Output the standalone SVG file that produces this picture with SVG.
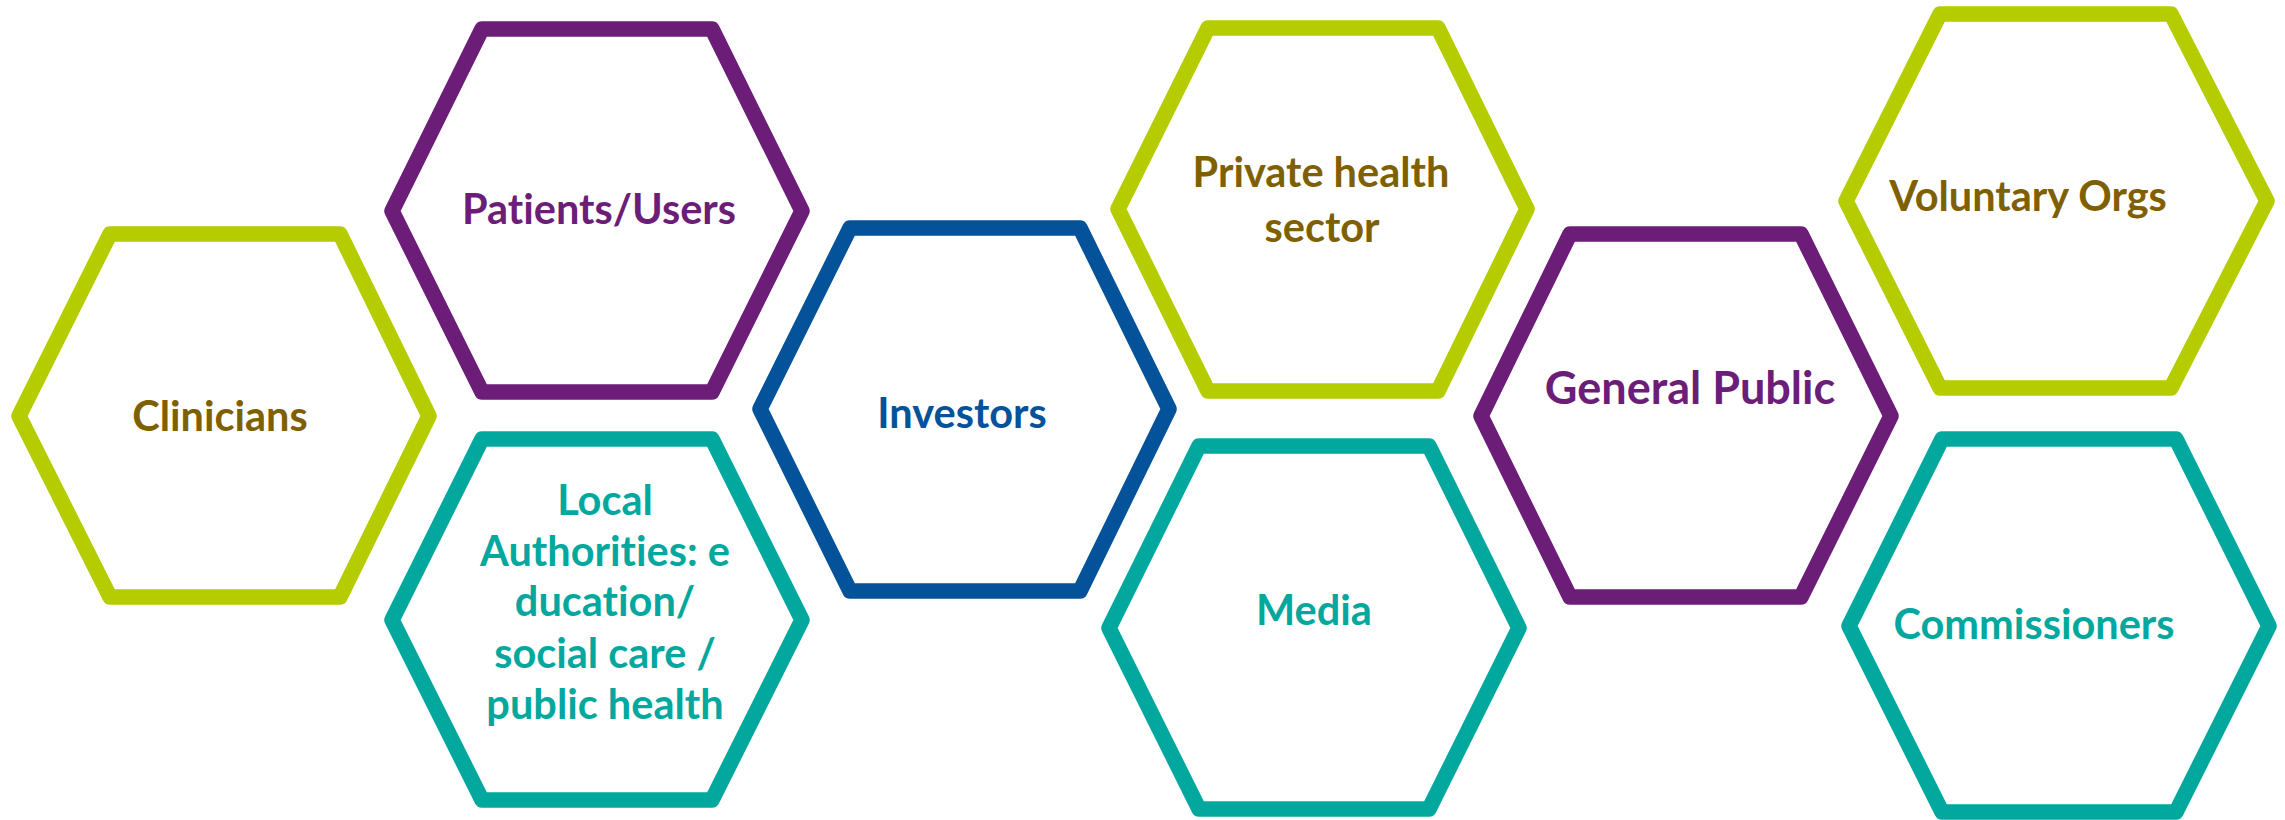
<svg xmlns="http://www.w3.org/2000/svg" width="2285" height="820" viewBox="0 0 2285 820">
  <style>
    .hex { fill: #ffffff; stroke-width: 15.5; stroke-linejoin: round; }
    .lime { stroke: #b5cc00; }
    .purple { stroke: #6c1d78; }
    .teal { stroke: #02a89e; }
    .blue { stroke: #04529a; }
    .label { font-family: Lato, "Liberation Sans", sans-serif; font-weight: bold; font-size: 41.5px; text-anchor: middle; font-variant-ligatures: none; font-feature-settings: "liga" 0, "dlig" 0; }
    .big { font-size: 45px; }
    .t-brown { fill: #7f6000; }
    .t-purple { fill: #6c1d78; }
    .t-teal { fill: #02a89e; }
    .t-blue { fill: #04529a; }
  </style>
  <rect width="2285" height="820" fill="#ffffff"/>

  <g id="connectors"/>

  <g id="clinicians">
    <polygon class="hex lime" points="19,416 110,234 340,234 429,416 340,597 110,597"/>
    <text class="label t-brown" x="220" y="431">Clinicians</text>
  </g>

  <g id="patients-users">
    <polygon class="hex purple" points="392,211 482,29 712,29 802,211 712,392 482,392"/>
    <text class="label t-purple" x="599" y="224">Patients/Users</text>
  </g>

  <g id="local-authorities">
    <polygon class="hex teal" points="392,620 482,439 712,439 802,620 712,800 482,800"/>
    <text class="label t-teal" x="605" y="515">Local</text>
    <text class="label t-teal" x="605" y="566">Authorities: e</text>
    <text class="label t-teal" x="605" y="616">ducation/</text>
    <text class="label t-teal" x="605" y="668">social care /</text>
    <text class="label t-teal" x="605" y="719">public health</text>
  </g>

  <g id="investors">
    <polygon class="hex blue" points="760,409 850,228 1080,228 1169,409 1080,591 850,591"/>
    <text class="label t-blue" x="962" y="428">Investors</text>
  </g>

  <g id="private-health-sector">
    <polygon class="hex lime" points="1118,209 1208,28 1438,28 1527,209 1438,391 1208,391"/>
    <text class="label t-brown" x="1321" y="187">Private health</text>
    <text class="label t-brown" x="1322" y="242">sector</text>
  </g>

  <g id="media">
    <polygon class="hex teal" points="1109,628 1199,446 1429,446 1519,628 1429,809 1199,809"/>
    <text class="label t-teal" x="1314" y="625">Media</text>
  </g>

  <g id="general-public">
    <polygon class="hex purple" points="1481,416 1570,234 1801,234 1891,416 1801,597 1570,597"/>
    <text class="label big t-purple" x="1690" y="404">General Public</text>
  </g>

  <g id="voluntary-orgs">
    <polygon class="hex lime" points="1846,201 1940,14 2171,14 2267,201 2171,388 1940,388"/>
    <text class="label t-brown" x="2028" y="211">Voluntary Orgs</text>
  </g>

  <g id="commissioners">
    <polygon class="hex teal" points="1849,626 1942,439 2176,439 2269,626 2176,812 1942,812"/>
    <text class="label t-teal" x="2034" y="639">Commissioners</text>
  </g>
</svg>
